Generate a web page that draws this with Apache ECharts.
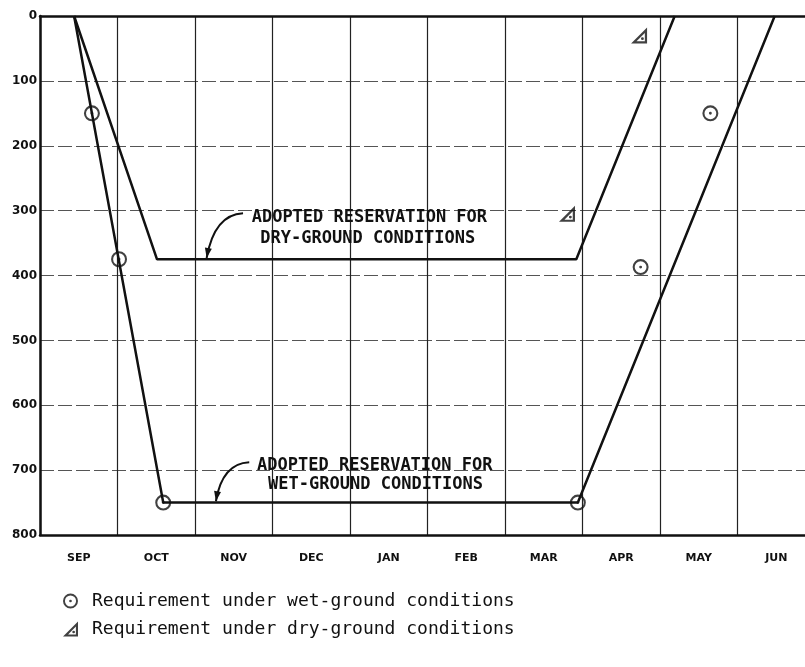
<!DOCTYPE html>
<html><head><meta charset="utf-8">
<script src="https://cdn.jsdelivr.net/npm/echarts@6/dist/echarts.min.js"></script>
<style>html,body{margin:0;padding:0;background:#fff}#c{width:805px;height:667px}</style>
</head><body><div id="c"></div>
<script>
// ---- data (x = months elapsed since 1 September, y = storage reservation) ----
const months = ['SEP','OCT','NOV','DEC','JAN','FEB','MAR','APR','MAY','JUN'];
const yMin = 0, yMax = 800, yStep = 100;
const dryLine = [[0.44,0],[1.51,375],[6.92,375],[8.19,0]];
const wetLine = [[0.44,0],[1.59,750],[6.94,750],[9.48,0]];
const wetReq = [[0.67,150],[1.02,375],[1.59,750],[6.94,750],[7.75,387],[8.65,150]];
const dryReq = [[7.73,30],[6.80,305]];
const wetName = 'Requirement under wet-ground conditions';
const dryName = 'Requirement under dry-ground conditions';
const dryLabel = ['ADOPTED RESERVATION FOR','DRY-GROUND CONDITIONS'];
const wetLabel = ['ADOPTED RESERVATION FOR','WET-GROUND CONDITIONS'];

// ---- symbols ----
const ringPath = 'path://M0,10A10,10 0 1 0 20,10A10,10 0 1 0 0,10Z' +
  'M2.6,10A7.4,7.4 0 1 1 17.4,10A7.4,7.4 0 1 1 2.6,10Z' +
  'M8.2,10A1.8,1.8 0 1 0 11.8,10A1.8,1.8 0 1 0 8.2,10Z';
const triPath = 'path://M20,0L20,20L0,20Z' +
  'M17.2,6.8L6.8,17.2L17.2,17.2Z' +
  'M12.4,14A1.8,1.8 0 1 0 16,14A1.8,1.8 0 1 0 12.4,14Z';

const chart = echarts.init(document.getElementById('c'), null, {renderer:'canvas'});
const black = '#111';
chart.setOption({
  animation: false,
  backgroundColor: '#fff',
  grid: {left: 40, top: 16, width: 775, bottom: 132, containLabel: false, outerBoundsMode: 'none'},
  xAxis: [
    {type:'value', min:0, max:months.length, interval:1, position:'top',
     axisLine:{show:true, onZero:false, lineStyle:{color:black, width:2.5}},
     axisTick:{show:false}, axisLabel:{show:false},
     splitLine:{show:true, lineStyle:{color:'#222', width:1.2}}},
    {type:'category', data:months, boundaryGap:true, position:'bottom', gridIndex:0,
     axisLine:{show:true, onZero:false, lineStyle:{color:black, width:2.5}},
     axisTick:{show:false},
     axisLabel:{color:black, fontFamily:'DejaVu Sans', fontWeight:'bold', fontSize:11, margin:18, hideOverlap:false},
     splitLine:{show:false}}
  ],
  yAxis: {type:'value', inverse:true, min:yMin, max:yMax, interval:yStep,
    axisLine:{show:true, lineStyle:{color:black, width:2.5}},
    axisTick:{show:false},
    axisLabel:{color:black, fontFamily:'DejaVu Sans', fontWeight:'bold', fontSize:12, margin:3},
    splitLine:{show:true, lineStyle:{color:'#555', width:1.2, type:[14,4]}}},
  legend: {orient:'vertical', left:58, top:587, itemWidth:15, itemHeight:15, itemGap:10,
    selectedMode:false,
    textStyle:{fontFamily:'DejaVu Sans Mono', fontSize:18, color:black, padding:[0,0,0,9]},
    data:[{name:wetName, icon:ringPath, itemStyle:{color:black}},
          {name:dryName, icon:triPath, itemStyle:{color:black}}]},
  series: [
    {type:'line', name:'dry', data:dryLine, symbol:'none', lineStyle:{color:black, width:2.5}, z:3},
    {type:'line', name:'wet', data:wetLine, symbol:'none', lineStyle:{color:black, width:2.5}, z:3},
    {type:'scatter', name:wetName, data:wetReq, symbol:ringPath, symbolSize:16,
     itemStyle:{color:black}, z:5},
    {type:'scatter', name:dryName, data:dryReq, symbol:triPath, symbolSize:16,
     itemStyle:{color:black}, z:5}
  ]
});

// ---- annotations anchored in data coordinates ----
function px(p){ return chart.convertToPixel({xAxisIndex:0, yAxisIndex:0}, p); }
function annotation(lines, c1, c2, start, cp, tip){
  const out = [];
  const textStyle = {fontFamily:'DejaVu Sans Mono', fontWeight:'bold', fontSize:17, fill:black,
                     align:'center', verticalAlign:'middle'};
  const p1 = px(c1), p2 = px(c2);
  out.push({type:'text', x:p1[0], y:p1[1], style:Object.assign({text:lines[0]}, textStyle), z:10});
  out.push({type:'text', x:p2[0], y:p2[1], style:Object.assign({text:lines[1]}, textStyle), z:10});
  const s = px(start), c = px(cp), t = px(tip);
  out.push({type:'bezierCurve', shape:{x1:s[0], y1:s[1], cpx1:c[0], cpy1:c[1], x2:t[0], y2:t[1]},
            style:{stroke:black, lineWidth:2, fill:null}, z:10});
  const dx = t[0]-c[0], dy = t[1]-c[1], L = Math.hypot(dx,dy), ux = dx/L, uy = dy/L;
  const hl = 10, hw = 3.5;
  const bx = t[0]-ux*hl, by = t[1]-uy*hl;
  out.push({type:'polygon', shape:{points:[[t[0],t[1]],[bx-uy*hw, by+ux*hw],[bx+uy*hw, by-ux*hw]]},
            style:{fill:black}, z:10});
  return out;
}
const g = [].concat(
  annotation(dryLabel, [4.25,310], [4.23,343], [2.62,304], [2.25,306], [2.15,373]),
  annotation(wetLabel, [4.32,693], [4.33,722], [2.70,688], [2.35,690], [2.27,748])
);
chart.setOption({graphic: g});
</script></body></html>
